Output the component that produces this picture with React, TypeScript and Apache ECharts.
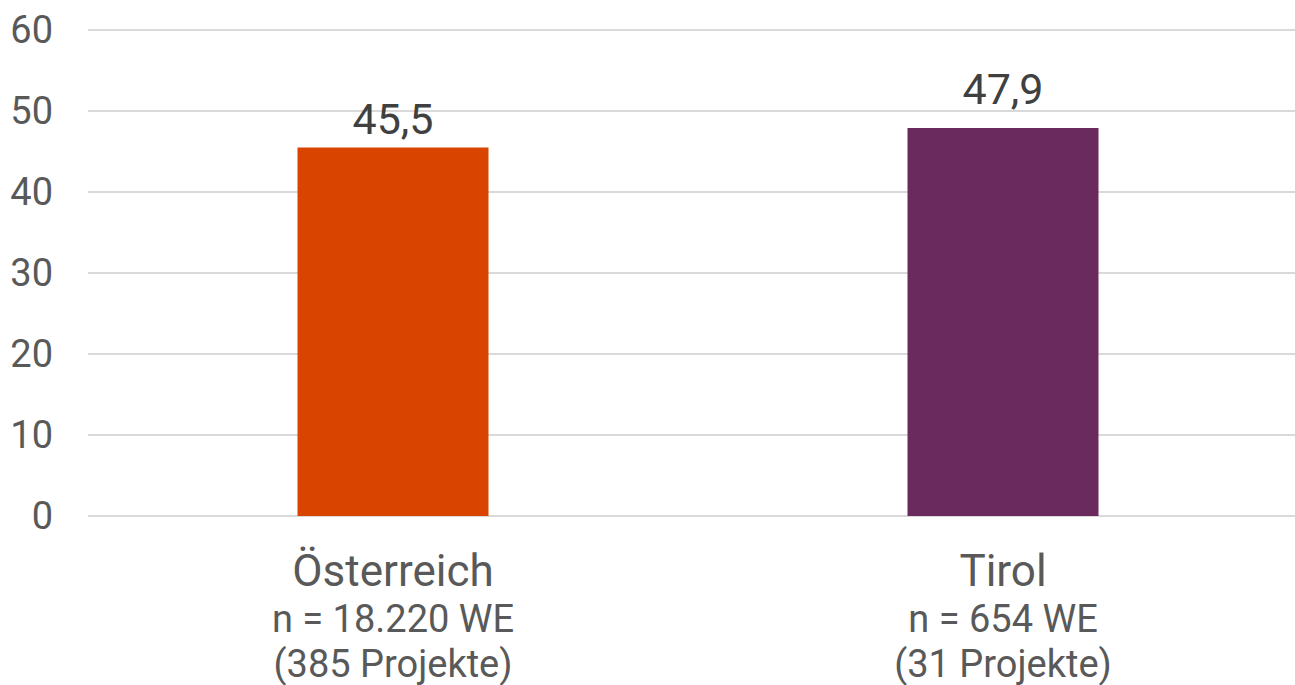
import React, { useEffect, useRef } from "react";
import * as echarts from "echarts";

const categories = ["Österreich", "Tirol"];
const sampleSizes = ["n = 18.220 WE", "n = 654 WE"];
const projectCounts = ["(385 Projekte)", "(31 Projekte)"];
const values = [45.5, 47.9];
const barColors = ["#D94400", "#6B2A5E"];
const labelGaps = [7, 18];

export default function App() {
  const ref = useRef<HTMLDivElement>(null);
  useEffect(() => {
    document.body.style.margin = "0";
    const chart = echarts.init(ref.current!, null, { renderer: "svg" });
    chart.setOption({
      animation: false,
      grid: {
        left: 88,
        width: 1220,
        top: 30,
        bottom: 169,
        containLabel: false,
        outerBoundsMode: "none",
      },
      xAxis: {
        type: "category",
        data: categories,
        axisLine: { show: false },
        axisTick: { show: false },
        axisLabel: {
          margin: 30,
          formatter: (v: string, i: number) =>
            `{a|${v}}\n{b|${sampleSizes[i]}}\n{c|${projectCounts[i]}}`,
          rich: {
            a: { fontFamily: "Roboto", fontSize: 44, lineHeight: 50, color: "#595959" },
            b: { fontFamily: "Roboto", fontSize: 38, lineHeight: 46, color: "#595959" },
            c: { fontFamily: "Roboto", fontSize: 38, lineHeight: 43, color: "#595959" },
          },
        },
      },
      yAxis: {
        type: "value",
        min: 0,
        max: 60,
        interval: 10,
        axisLine: { show: false },
        axisTick: { show: false },
        splitLine: { lineStyle: { color: "#D9D9D9", width: 2 } },
        axisLabel: {
          margin: 35,
          fontFamily: "Roboto",
          fontSize: 38,
          color: "#595959",
        },
      },
      series: [
        {
          type: "bar",
          barWidth: 191,
          data: values.map((v, i) => ({
            value: v,
            itemStyle: { color: barColors[i] },
            label: { distance: labelGaps[i] },
          })),
          label: {
            show: true,
            position: "top",
            fontFamily: "Roboto",
            fontSize: 43,
            color: "#404040",
            formatter: (p: any) => String(p.value).replace(".", ","),
          },
        },
      ],
    });
    return () => chart.dispose();
  }, []);
  return <div ref={ref} style={{ width: 1295, height: 685 }} />;
}
